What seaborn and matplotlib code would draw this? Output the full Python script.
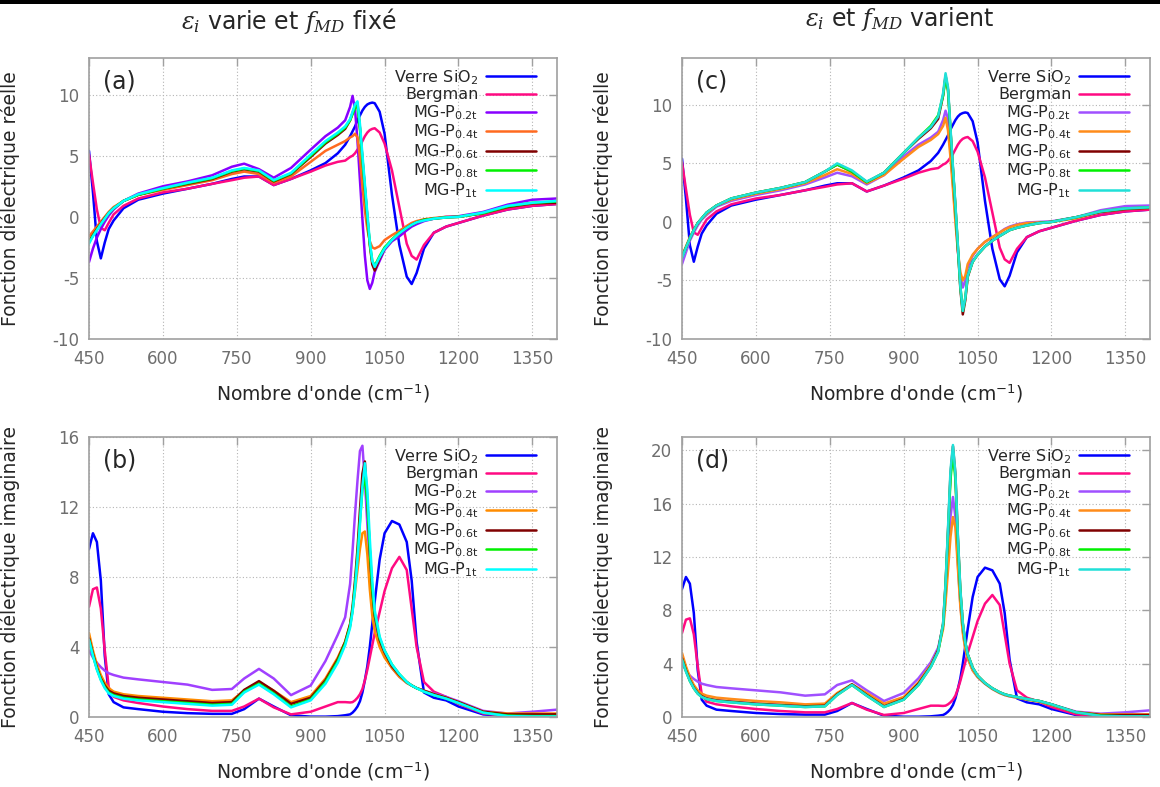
import matplotlib
matplotlib.use("Agg")
import matplotlib.pyplot as plt
from matplotlib.patches import Rectangle
import seaborn as sns

# nombre d'onde (cm-1), grille commune
wn = [450, 458, 466, 474, 482, 490, 500, 520, 550, 600,
      650, 700, 740, 765, 795, 825, 860, 900, 930, 955,
      970, 980, 985, 990, 995, 1000, 1005, 1010, 1015, 1020,
      1025, 1030, 1040, 1050, 1065, 1080, 1095, 1105, 1115, 1130,
      1150, 1175, 1200, 1250, 1300, 1350, 1400]

labels = ["Verre SiO$_2$", "Bergman", r"MG-P$_{\mathrm{0.2t}}$", r"MG-P$_{\mathrm{0.4t}}$",
          r"MG-P$_{\mathrm{0.6t}}$", r"MG-P$_{\mathrm{0.8t}}$", r"MG-P$_{\mathrm{1t}}$"]

# --- partie reelle ---
verre_re = [5.4, 2.0, -2.0, -3.4, -2.1, -1.0, -0.3, 0.7, 1.4, 1.9,
            2.3, 2.7, 3.1, 3.3, 3.3, 2.6, 3.1, 3.8, 4.4, 5.2,
            5.9, 6.6, 7.0, 7.4, 7.9, 8.3, 8.7, 9.0, 9.2, 9.3,
            9.35, 9.3, 8.6, 6.8, 1.8, -2.3, -4.9, -5.5, -4.6, -2.6,
            -1.3, -0.8, -0.5, 0.1, 0.6, 0.9, 1.05]
bergman_re = [5.1, 2.8, 0.6, -0.9, -1.1, -0.5, 0.2, 0.9, 1.5, 2.0,
              2.3, 2.7, 3.0, 3.2, 3.3, 2.6, 3.1, 3.7, 4.2, 4.5,
              4.6, 4.9, 5.0, 5.2, 5.5, 5.8, 6.2, 6.6, 6.9, 7.1,
              7.2, 7.25, 6.9, 6.0, 3.8, 0.8, -2.2, -3.2, -3.5, -2.3,
              -1.3, -0.8, -0.5, 0.1, 0.6, 0.9, 1.05]

mg02_re_a = [-3.7, -2.6, -1.7, -1.0, -0.4, 0.1, 0.6, 1.3, 1.9, 2.5,
             2.9, 3.4, 4.1, 4.35, 3.9, 3.2, 4.0, 5.5, 6.6, 7.3,
             7.9, 9.0, 9.9, 8.8, 6.2, 3.0, -0.2, -3.2, -5.2, -5.9,
             -5.4, -4.5, -3.6, -2.7, -2.0, -1.6, -1.1, -0.8, -0.6, -0.35,
             -0.15, 0.0, 0.05, 0.4, 1.0, 1.4, 1.5]
mg04_re_a = [-1.6, -1.2, -0.8, -0.4, 0.0, 0.4, 0.8, 1.3, 1.8, 2.2,
             2.6, 3.0, 3.5, 3.7, 3.5, 2.8, 3.3, 4.5, 5.4, 5.9,
             6.2, 6.5, 6.6, 6.8, 6.5, 4.8, 2.5, 0.5, -1.0, -2.0,
             -2.5, -2.6, -2.4, -1.9, -1.5, -1.15, -0.75, -0.5, -0.35, -0.2,
             -0.1, 0.0, 0.0, 0.3, 0.8, 1.1, 1.2]
mg06_re_a = [-2.0, -1.5, -1.0, -0.55, -0.1, 0.3, 0.7, 1.3, 1.8, 2.3,
             2.7, 3.1, 3.7, 3.9, 3.7, 2.9, 3.5, 4.9, 6.0, 6.7,
             7.2, 7.9, 8.5, 9.1, 9.3, 7.3, 4.8, 2.4, 0.0, -2.3,
             -3.9, -4.4, -3.4, -2.6, -1.9, -1.35, -0.9, -0.65, -0.45, -0.25,
             -0.15, -0.05, 0.0, 0.3, 0.8, 1.1, 1.15]
mg08_re_a = [-2.1, -1.55, -1.05, -0.6, -0.15, 0.3, 0.7, 1.3, 1.8, 2.3,
             2.75, 3.15, 3.75, 3.95, 3.75, 2.95, 3.55, 5.0, 6.1, 6.8,
             7.3, 7.9, 8.4, 8.9, 9.1, 7.2, 4.7, 2.3, 0.0, -2.2,
             -3.6, -4.0, -3.2, -2.5, -1.85, -1.3, -0.9, -0.65, -0.45, -0.25,
             -0.15, -0.05, 0.0, 0.3, 0.85, 1.15, 1.25]
mg1_re_a = [-2.2, -1.6, -1.1, -0.6, -0.15, 0.3, 0.7, 1.3, 1.85, 2.35,
            2.8, 3.2, 3.8, 4.0, 3.8, 3.0, 3.6, 5.1, 6.2, 6.9,
            7.4, 8.0, 8.6, 9.2, 9.45, 7.6, 5.1, 2.7, 0.3, -2.0,
            -3.6, -4.1, -3.3, -2.6, -1.9, -1.35, -0.9, -0.65, -0.45, -0.3,
            -0.15, -0.05, 0.0, 0.35, 0.9, 1.15, 1.3]

mg02_re_c = [-3.6, -2.6, -1.6, -0.9, -0.3, 0.2, 0.6, 1.3, 1.8, 2.3,
             2.7, 3.2, 3.8, 4.2, 3.9, 3.2, 4.0, 5.6, 6.6, 7.2,
             7.7, 8.7, 9.5, 8.8, 6.0, 3.3, 0.5, -2.5, -4.6, -5.6,
             -5.0, -3.9, -2.9, -2.3, -1.7, -1.3, -0.9, -0.6, -0.4, -0.2,
             -0.05, 0.0, 0.05, 0.4, 1.0, 1.35, 1.4]
mg04_re_c = [-2.9, -2.1, -1.3, -0.7, -0.1, 0.3, 0.7, 1.4, 1.9, 2.4,
             2.8, 3.3, 4.0, 4.5, 4.1, 3.3, 4.0, 5.4, 6.4, 7.0,
             7.5, 8.2, 8.9, 7.8, 5.5, 2.8, 0.0, -2.5, -4.3, -5.0,
             -4.6, -3.6, -2.8, -2.3, -1.7, -1.3, -0.9, -0.65, -0.45, -0.25,
             -0.1, -0.05, 0.0, 0.3, 0.85, 1.1, 1.2]
mg06_re_c = [-3.0, -2.2, -1.4, -0.7, -0.1, 0.3, 0.8, 1.4, 2.0, 2.5,
             2.9, 3.4, 4.3, 4.9, 4.3, 3.4, 4.2, 5.9, 7.1, 8.0,
             8.8, 10.8, 12.5, 11.3, 7.8, 4.5, 1.3, -2.2, -5.7, -7.9,
             -6.7, -4.7, -3.4, -2.8, -2.1, -1.6, -1.2, -0.95, -0.7, -0.5,
             -0.3, -0.1, 0.0, 0.4, 0.85, 1.1, 1.2]
mg08_re_c = [-3.0, -2.2, -1.4, -0.7, -0.1, 0.3, 0.8, 1.4, 2.0, 2.5,
             2.9, 3.4, 4.3, 4.9, 4.3, 3.4, 4.2, 5.9, 7.2, 8.2,
             9.1, 10.8, 12.3, 11.2, 7.8, 4.5, 1.3, -2.1, -5.5, -7.6,
             -6.5, -4.6, -3.4, -2.8, -2.1, -1.6, -1.2, -0.95, -0.7, -0.5,
             -0.3, -0.1, 0.0, 0.4, 0.9, 1.15, 1.25]
mg1_re_c = [-3.1, -2.2, -1.4, -0.7, -0.1, 0.3, 0.8, 1.4, 2.0, 2.5,
            2.9, 3.4, 4.3, 5.0, 4.4, 3.45, 4.2, 5.9, 7.2, 8.1,
            9.0, 11.0, 12.7, 11.5, 8.0, 4.7, 1.5, -2.0, -5.5, -7.6,
            -6.5, -4.6, -3.4, -2.8, -2.1, -1.6, -1.2, -0.95, -0.7, -0.5,
            -0.3, -0.1, 0.0, 0.4, 0.9, 1.15, 1.25]

# --- partie imaginaire ---
verre_im = [9.6, 10.5, 10.0, 7.8, 3.5, 1.3, 0.85, 0.55, 0.45, 0.3,
            0.22, 0.18, 0.18, 0.45, 1.05, 0.6, 0.1, 0.02, 0.02, 0.05,
            0.1, 0.15, 0.25, 0.4, 0.6, 0.9, 1.4, 2.1, 2.9, 4.0,
            5.3, 6.6, 9.0, 10.5, 11.2, 11.0, 10.0, 7.8, 4.3, 1.4,
            1.1, 0.95, 0.6, 0.15, 0.05, 0.02, 0.02]
bergman_im = [6.3, 7.3, 7.4, 6.2, 3.8, 1.7, 1.15, 0.95, 0.8, 0.6,
              0.45, 0.35, 0.35, 0.6, 1.05, 0.55, 0.15, 0.3, 0.6, 0.85,
              0.85, 0.83, 0.85, 0.95, 1.1, 1.3, 1.6, 2.1, 2.7, 3.4,
              4.1, 4.8, 6.0, 7.2, 8.5, 9.15, 8.4, 6.2, 4.0, 2.0,
              1.45, 1.15, 0.75, 0.2, 0.05, 0.01, 0.01]

mg02_im_b = [3.8, 3.4, 3.1, 2.85, 2.65, 2.5, 2.4, 2.25, 2.15, 2.0,
             1.85, 1.55, 1.6, 2.2, 2.75, 2.2, 1.25, 1.8, 3.2, 4.7,
             5.7, 7.6, 9.5, 11.6, 13.5, 15.2, 15.5, 13.5, 11.0, 8.7,
             6.8, 5.5, 4.2, 3.5, 2.8, 2.3, 1.95, 1.8, 1.65, 1.5,
             1.35, 1.15, 0.9, 0.35, 0.2, 0.3, 0.42]
mg04_im_b = [4.8, 3.8, 3.0, 2.4, 1.95, 1.65, 1.45, 1.3, 1.2, 1.1,
             1.0, 0.9, 0.95, 1.5, 2.0, 1.5, 0.85, 1.2, 2.2, 3.4,
             4.3, 5.3, 6.1, 7.2, 8.4, 9.6, 10.5, 10.6, 9.3, 7.3,
             5.8, 4.9, 4.0, 3.4, 2.8, 2.3, 1.95, 1.8, 1.65, 1.5,
             1.3, 1.1, 0.85, 0.3, 0.2, 0.2, 0.2]
mg06_im_b = [4.5, 3.6, 2.8, 2.2, 1.8, 1.5, 1.35, 1.2, 1.1, 1.0,
             0.9, 0.8, 0.85, 1.55, 2.05, 1.5, 0.75, 1.1, 2.1, 3.3,
             4.3, 5.3, 6.3, 7.8, 9.6, 11.8, 13.9, 14.6, 12.3, 9.5,
             7.2, 5.8, 4.4, 3.7, 2.9, 2.4, 2.0, 1.8, 1.65, 1.5,
             1.3, 1.1, 0.85, 0.3, 0.15, 0.15, 0.15]
mg08_im_b = [4.4, 3.5, 2.75, 2.15, 1.7, 1.4, 1.25, 1.1, 1.0, 0.9,
             0.8, 0.7, 0.75, 1.45, 1.9, 1.35, 0.6, 1.0, 2.0, 3.2,
             4.2, 5.2, 6.1, 7.5, 9.2, 11.2, 13.0, 13.8, 12.3, 9.6,
             7.3, 5.9, 4.5, 3.8, 3.0, 2.45, 2.0, 1.8, 1.65, 1.45,
             1.25, 1.05, 0.8, 0.25, 0.08, 0.05, 0.05]
mg1_im_b = [4.4, 3.5, 2.7, 2.1, 1.65, 1.35, 1.2, 1.05, 0.95, 0.85,
            0.75, 0.65, 0.7, 1.4, 1.85, 1.3, 0.55, 0.95, 1.9, 3.1,
            4.1, 5.1, 6.0, 7.3, 9.0, 11.0, 13.2, 14.5, 13.0, 10.2,
            7.8, 6.1, 4.6, 3.8, 3.0, 2.45, 2.0, 1.8, 1.65, 1.45,
            1.25, 1.05, 0.8, 0.25, 0.05, 0.03, 0.03]

mg02_im_d = [4.0, 3.5, 3.1, 2.85, 2.65, 2.5, 2.4, 2.25, 2.15, 2.0,
             1.85, 1.6, 1.7, 2.4, 2.75, 2.0, 1.2, 1.8, 2.9, 4.1,
             5.2, 6.8, 9.0, 12.0, 15.0, 16.5, 15.0, 11.5, 8.5, 6.5,
             5.2, 4.4, 3.5, 3.0, 2.5, 2.1, 1.8, 1.65, 1.55, 1.45,
             1.35, 1.2, 0.95, 0.4, 0.25, 0.35, 0.5]
mg04_im_d = [4.8, 3.8, 3.0, 2.4, 2.0, 1.75, 1.6, 1.45, 1.35, 1.2,
             1.1, 0.95, 1.0, 1.8, 2.45, 1.8, 1.0, 1.5, 2.6, 3.9,
             5.0, 6.6, 8.6, 11.0, 13.5, 15.0, 14.2, 11.2, 8.3, 6.3,
             5.1, 4.4, 3.5, 3.0, 2.5, 2.1, 1.8, 1.65, 1.55, 1.45,
             1.3, 1.15, 0.9, 0.35, 0.2, 0.2, 0.2]
mg06_im_d = [4.4, 3.5, 2.75, 2.2, 1.8, 1.55, 1.4, 1.25, 1.15, 1.0,
             0.9, 0.8, 0.85, 1.7, 2.45, 1.65, 0.8, 1.35, 2.5, 3.8,
             5.0, 7.0, 10.0, 14.0, 18.2, 20.3, 18.2, 13.5, 9.5, 7.0,
             5.6, 4.7, 3.7, 3.1, 2.55, 2.15, 1.85, 1.7, 1.6, 1.5,
             1.35, 1.2, 0.95, 0.35, 0.15, 0.15, 0.15]
mg08_im_d = [4.3, 3.45, 2.7, 2.15, 1.75, 1.5, 1.35, 1.2, 1.1, 0.95,
             0.85, 0.75, 0.8, 1.65, 2.4, 1.6, 0.75, 1.3, 2.4, 3.75,
             4.9, 6.9, 9.8, 13.8, 17.8, 19.9, 17.8, 13.2, 9.4, 7.0,
             5.6, 4.7, 3.7, 3.1, 2.55, 2.15, 1.85, 1.7, 1.6, 1.5,
             1.35, 1.2, 0.95, 0.35, 0.1, 0.05, 0.05]
mg1_im_d = [4.3, 3.4, 2.7, 2.15, 1.75, 1.5, 1.35, 1.2, 1.1, 0.95,
            0.85, 0.75, 0.8, 1.65, 2.4, 1.6, 0.75, 1.3, 2.4, 3.75,
            4.9, 7.0, 10.0, 14.2, 18.5, 20.4, 18.3, 13.6, 9.6, 7.1,
            5.6, 4.7, 3.7, 3.1, 2.55, 2.15, 1.85, 1.7, 1.6, 1.5,
            1.35, 1.2, 0.95, 0.35, 0.08, 0.05, 0.05]

pal_a = ["#0000ff", "#ff0a82", "#8800ff", "#ff6a20", "#800000", "#00f000", "#00ffff"]
pal_b = ["#0000ff", "#ff0a82", "#a040ff", "#ff8c00", "#800000", "#00f000", "#00ffff"]
pal_cd = ["#0000ff", "#ff0a82", "#a050ff", "#ff8c1a", "#800000", "#00f000", "#20e0d8"]

sns.set_theme(style="white")
plt.rcParams["font.family"] = ["DejaVu Sans"]
plt.rcParams["mathtext.fontset"] = "custom"
plt.rcParams["mathtext.rm"] = "DejaVu Sans"
plt.rcParams["mathtext.it"] = "DejaVu Serif:italic"
plt.rcParams["axes.unicode_minus"] = False

W, H = 1160, 787
fig = plt.figure(figsize=(W / 100, H / 100), dpi=100)


def box(l, t, r, b):
    return [l / W, 1 - b / H, (r - l) / W, (b - t) / H]


def panel(rect, series, pal, ylim, yticks, tag, ylabel):
    ax = fig.add_axes(box(*rect))
    for vals, lab, col in zip(series, labels, pal):
        sns.lineplot(x=wn, y=vals, ax=ax, color=col, linewidth=1.8, label=lab)
    ax.set_xlim(450, 1400)
    ax.set_ylim(*ylim)
    ax.set_xticks([450, 600, 750, 900, 1050, 1200, 1350])
    ax.set_yticks(yticks)
    ax.grid(True, linestyle=(0, (1, 2)), color="#b4b4b4", linewidth=0.8)
    ax.set_axisbelow(True)
    for s in ax.spines.values():
        s.set_color("#a0a0a0")
        s.set_linewidth(1.2)
    ax.tick_params(direction="in", length=6, width=1, color="#a0a0a0",
                   top=True, right=True, labelsize=12, labelcolor="#6e6e6e")
    ax.tick_params(axis="x", pad=8)
    ax.tick_params(axis="y", pad=7)
    ax.set_xlabel("Nombre d'onde (cm$^{-1}$)", fontsize=13.5)
    ax.set_ylabel(ylabel, fontsize=13.5)
    ax.xaxis.set_label_coords(0.5, -0.155)
    ax.yaxis.set_label_coords(-69 / 468, 0.5)
    ax.text(0.03, 0.915, tag, transform=ax.transAxes, fontsize=17, va="center")
    leg = ax.legend(loc="upper right", bbox_to_anchor=(1 - 21 / 468, 1 - 10 / 281),
                    markerfirst=False, frameon=False, fontsize=11.5, handlelength=3.1,
                    handletextpad=0.5, labelspacing=0.05, borderpad=0, borderaxespad=0)
    for col in leg._legend_handle_box.get_children():
        col.align = "right"
    return ax


panel((89, 58, 557, 339),
      [verre_re, bergman_re, mg02_re_a, mg04_re_a, mg06_re_a, mg08_re_a, mg1_re_a],
      pal_a, (-10, 13), [-10, -5, 0, 5, 10], "(a)", "Fonction diélectrique réelle")
panel((682, 58, 1150, 339),
      [verre_re, bergman_re, mg02_re_c, mg04_re_c, mg06_re_c, mg08_re_c, mg1_re_c],
      pal_cd, (-10, 14), [-10, -5, 0, 5, 10], "(c)", "Fonction diélectrique réelle")
panel((89, 437, 557, 717),
      [verre_im, bergman_im, mg02_im_b, mg04_im_b, mg06_im_b, mg08_im_b, mg1_im_b],
      pal_b, (0, 16), [0, 4, 8, 12, 16], "(b)", "Fonction diélectrique imaginaire")
panel((682, 437, 1150, 717),
      [verre_im, bergman_im, mg02_im_d, mg04_im_d, mg06_im_d, mg08_im_d, mg1_im_d],
      pal_cd, (0, 21), [0, 4, 8, 12, 16, 20], "(d)", "Fonction diélectrique imaginaire")

# titres des colonnes
fig.text(289 / W, 1 - 21 / H, r"$\varepsilon_i$ varie et $f_{MD}$ fixé",
         ha="center", va="center", fontsize=17)
fig.text(900 / W, 1 - 19 / H, r"$\varepsilon_i$ et $f_{MD}$ varient",
         ha="center", va="center", fontsize=17)

# bandeau noir en haut
fig.patches.append(Rectangle((0, 1 - 4 / H), 1, 4 / H, transform=fig.transFigure,
                             facecolor="black", edgecolor="none"))

fig.savefig("out.png", dpi=100)
